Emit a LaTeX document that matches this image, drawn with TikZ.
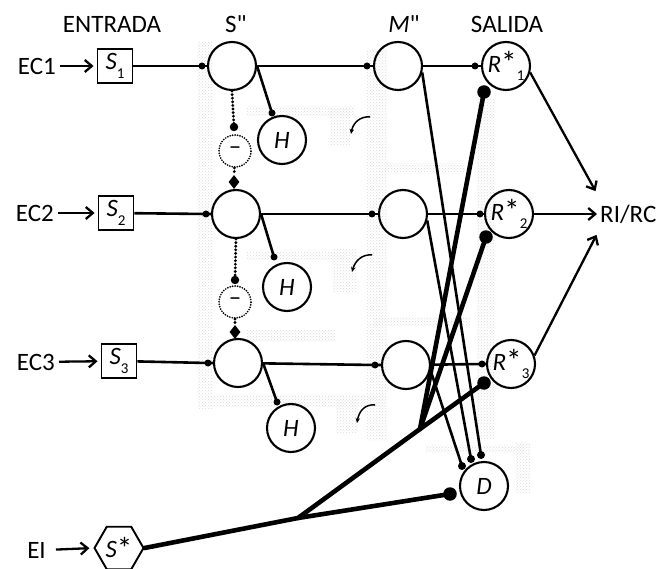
\documentclass[tikz,border=0pt]{standalone}
\usepackage{fontspec}
\setmainfont{Carlito}[Ligatures=TeXOff]
\usetikzlibrary{arrows.meta,shapes.geometric,patterns}

% small lowered index used inside the node labels
\newcommand{\idx}[1]{\raisebox{-0.33em}{\fontsize{15}{15}\selectfont #1}}
% slightly larger asterisk
\newcommand{\bigstar}{\raisebox{-0.05em}{\scalebox{1.25}{*}}}

\begin{document}
\begin{tikzpicture}[x=1pt,y=-1pt,
  every node/.style={font=\fontsize{25}{28}\selectfont, inner sep=0pt},
  inbox/.style={draw, line width=1.9pt, minimum width=35pt, minimum height=34pt},
  bigc/.style={circle, draw, line width=2.1pt, minimum size=48pt},
  sdot/.style={circle, fill, minimum size=7pt},
  bdot/.style={circle, fill, minimum size=13.5pt},
  negc/.style={circle, draw, line width=1.9pt, dash pattern=on 0pt off 2.5pt, line cap=round, minimum size=32pt},
  gate/.style={diamond, fill, minimum width=11pt, minimum height=14pt},
  hexa/.style={regular polygon, regular polygon sides=6, draw, line width=1.9pt, minimum size=49pt},
  wire/.style={line width=2.6pt},
  chain/.style={line width=3.2pt, dash pattern=on 0pt off 3.6pt, line cap=round},
  heavy/.style={line width=4.6pt, line cap=round, line join=round},
  feed/.style={line width=2.3pt, -{Straight Barb[length=7pt,width=12pt,line width=2.3pt]}},
  turn/.style={line width=1.5pt, -{Stealth[length=5pt,width=4.5pt]}},
  grain/.style={pattern=crosshatch dots, pattern color=gray!28, draw=none},
  ]
\useasboundingbox (0,0) rectangle (661,569);
\fill[white] (0,0) rectangle (661,569);

% faint dotted shading bands behind the network
\foreach \xa/\ya/\xb/\yb in {197/42/212/408, 247/107/355/116, 247/252/345/260,
    247/330/335/340, 212/395/385/406, 367/50/387/440, 385/164/465/172,
    373/317/470/326, 477/100/495/438, 425/445/525/452, 515/442/530/492,
    330/110/350/145, 332/250/356/292, 336/400/358/432}
  \fill[grain] (\xa,\ya) rectangle (\xb,\yb);

% column headings
\node (hin)  at (112,24) {ENTRADA};
\node (hs)   at (236,24) {S"};
\node (hm)   at (404,24) {\textit{M}"};
\node (hout) at (507,24) {SALIDA};

% entries
\node[anchor=east] (ec1) at (56,66) {EC1};
\node[anchor=east] (ec2) at (54,213) {EC2};
\node[anchor=east] (ec3) at (55,362) {EC3};
\node[inbox] (s1) at (115,66) {\textit{S}\idx{1}};
\node[inbox] (s2) at (116,213) {\textit{S}\idx{2}};
\node[inbox] (s3) at (119,361) {\textit{S}\idx{3}};

% S'' column
\node[sdot] (sd1) at (202,66) {};
\node[sdot] (sd2) at (206,214) {};
\node[sdot] (sd3) at (208,363) {};
\node[bigc] (sa) at (232,66) {};
\node[bigc] (sb) at (236,214) {};
\node[bigc] (sc) at (238,363) {};

% H branches
\node[sdot] (hd1) at (272,113) {};
\node[sdot] (hd2) at (274,257) {};
\node[sdot] (hd3) at (277,402) {};
\node[bigc] (ha) at (282,140) {\textit{H}};
\node[bigc] (hb) at (287,287) {\textit{H}};
\node[bigc] (hc) at (291,428) {\textit{H}};

% dotted links between the S'' nodes
\node[sdot, minimum size=8.5pt] (nd1) at (234,127) {};
\node[sdot, minimum size=8.5pt] (nd2) at (235,280) {};
\node[negc] (na) at (235,151) {–};
\node[negc] (nb) at (235,302) {–};
\node[gate] (ga) at (234,182) {};
\node[gate] (gb) at (235,332) {};

% M'' column
\node[sdot] (md1) at (367,66) {};
\node[sdot] (md2) at (372,214) {};
\node[sdot] (md3) at (375,365) {};
\node[bigc] (ma) at (398,66) {};
\node[bigc] (mb) at (403,214) {};
\node[bigc] (mc) at (406,365) {};

% outputs
\node[sdot] (rd1) at (475,66) {};
\node[sdot] (rd2) at (480,214) {};
\node[sdot] (rd3) at (482,364) {};
\node[bigc] (ra) at (506,66) {\textit{R}\bigstar\idx{1}};
\node[bigc] (rb) at (509,214) {\textit{R}\bigstar\idx{2}};
\node[bigc] (rc) at (511,364) {\textit{R}\bigstar\idx{3}};
\node[anchor=west] (out) at (600,214) {RI/RC};
\coordinate (t1) at (596,192);
\coordinate (t3) at (597,234);

% D node and its inputs
\node[bigc] (dd) at (484,486) {\textit{D}};
\node[sdot, minimum size=8pt] (de1) at (481,455) {};
\node[sdot, minimum size=8pt] (de2) at (471,459) {};
\node[sdot, minimum size=8pt] (de3) at (462,466) {};

% EI source
\node[anchor=east] (ei) at (46,550) {EI};
\node[hexa] (ss) at (119,548) {\textit{S}\bigstar};
\node[bdot] (br1) at (484,92) {};
\node[bdot] (br2) at (486,237) {};
\node[bdot] (br3) at (484,383) {};
\node[bdot] (bd)  at (450,494) {};
\coordinate (j1) at (298,518);
\coordinate (j2) at (420,429);

% input arrows
\draw[feed, shorten <=4pt, shorten >=3pt] (ec1) -- (s1);
\draw[feed, shorten <=4pt, shorten >=3pt] (ec2) -- (s2);
\draw[feed, shorten <=4pt, shorten >=3pt] (ec3) -- (s3);
\draw[feed, shorten <=10pt, shorten >=4pt] (ei.east) -- (ss.west);

% main rows
\draw[wire] (s1) -- (sd1.center) -- (sa);
\draw[wire] (s2) -- (sd2.center) -- (sb);
\draw[wire] (s3) -- (sd3.center) -- (sc);
\draw[wire] (sa) -- (md1.center) -- (ma);
\draw[wire] (sb) -- (md2.center) -- (mb);
\draw[wire] (sc) -- (md3.center) -- (mc);
\draw[wire] (ma) -- (rd1.center) -- (ra);
\draw[wire] (mb) -- (rd2.center) -- (rb);
\draw[wire] (mc) -- (rd3.center) -- (rc);

% H links
\draw[wire] (sa.east) -- (hd1.center);
\draw[wire] (sb.east) -- (hd2.center);
\draw[wire] (sc.east) -- (hd3.center);

% dotted chains
\draw[chain] (sa.south) -- (nd1.center);
\draw[chain] (na) -- (ga);
\draw[chain] (sb.south) -- (nd2.center);
\draw[chain] (nb) -- (gb);

% M'' to D
\draw[wire] (ma.-15) -- (de1.center);
\draw[wire] (mb.-15) -- (de2.center);
\draw[wire] (mc.-12) -- (de3.center);

% outputs to RI/RC
\draw[feed, shorten >=1pt] (ra.-15) -- (t1);
\draw[feed, shorten >=3pt] (rb) -- (out);
\draw[feed, shorten >=1pt] (rc.20) -- (t3);

% heavy EI distribution
\draw[heavy] (ss.east) -- (j1) -- (bd.center);
\draw[heavy] (j1) -- (j2) -- (br3.center);
\draw[heavy] (j2) -- (br2.center);
\draw[heavy] (j2) -- (br1.center);

% small turning arrows
\coordinate (ca1) at (370,117); \coordinate (cb1) at (351,134);
\coordinate (ca2) at (372,255); \coordinate (cb2) at (352,272);
\coordinate (ca3) at (375,405); \coordinate (cb3) at (357,423);
\draw[turn] (ca1) .. controls (360,116) and (353,123) .. (cb1);
\draw[turn] (ca2) .. controls (362,254) and (355,261) .. (cb2);
\draw[turn] (ca3) .. controls (365,404) and (359,411) .. (cb3);
\end{tikzpicture}
\end{document}
